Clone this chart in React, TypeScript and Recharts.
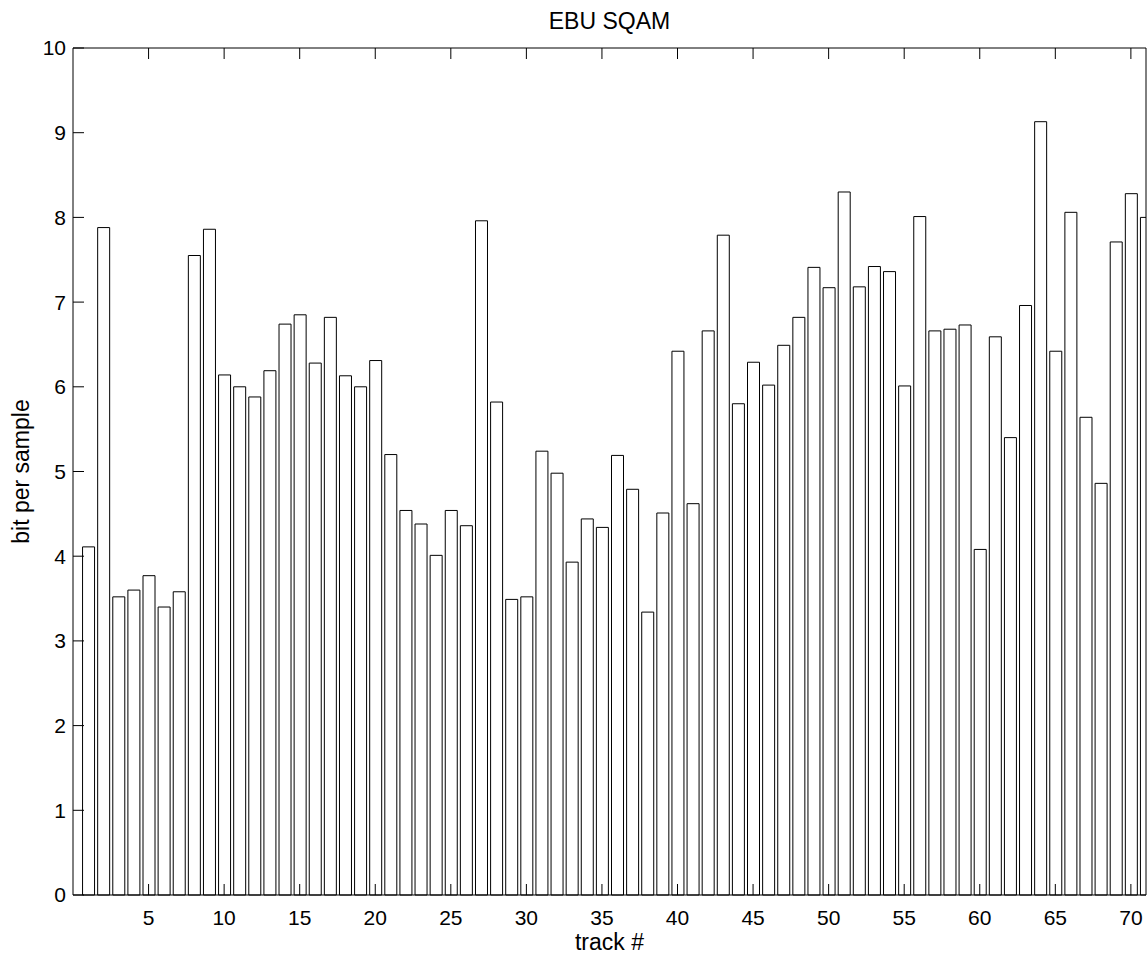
import React from 'react';
import { BarChart, Bar, XAxis, YAxis } from 'recharts';

const tracks = [
  1, 2, 3, 4, 5, 6, 7, 8, 9, 10, 11, 12, 13, 14, 15, 16, 17, 18, 19, 20,
  21, 22, 23, 24, 25, 26, 27, 28, 29, 30, 31, 32, 33, 34, 35, 36, 37, 38, 39, 40,
  41, 42, 43, 44, 45, 46, 47, 48, 49, 50, 51, 52, 53, 54, 55, 56, 57, 58, 59, 60,
  61, 62, 63, 64, 65, 66, 67, 68, 69, 70, 71,
];

const bitsPerSample = [
  4.11, 7.88, 3.52, 3.6, 3.77, 3.4, 3.58, 7.55, 7.86, 6.14,
  6.0, 5.88, 6.19, 6.74, 6.85, 6.28, 6.82, 6.13, 6.0, 6.31,
  5.2, 4.54, 4.38, 4.01, 4.54, 4.36, 7.96, 5.82, 3.49, 3.52,
  5.24, 4.98, 3.93, 4.44, 4.34, 5.19, 4.79, 3.34, 4.51, 6.42,
  4.62, 6.66, 7.79, 5.8, 6.29, 6.02, 6.49, 6.82, 7.41, 7.17,
  8.3, 7.18, 7.42, 7.36, 6.01, 8.01, 6.66, 6.68, 6.73, 4.08,
  6.59, 5.4, 6.96, 9.13, 6.42, 8.06, 5.64, 4.86, 7.71, 8.28,
  8.0,
];

const xTicks = [5, 10, 15, 20, 25, 30, 35, 40, 45, 50, 55, 60, 65, 70];
const yTicks = [0, 1, 2, 3, 4, 5, 6, 7, 8, 9, 10];
const xDomain = [0, 71];
const yDomain = [0, 10];

const title = 'EBU SQAM';
const xLabel = 'track #';
const yLabel = 'bit per sample';

const data = tracks.map((t, i) => ({ track: t, value: bitsPerSample[i] }));

const FONT = '"Liberation Sans", Arial, Helvetica, sans-serif';
const TICK_LEN = 11;
const TICK_FONT = 21;
const LABEL_FONT = 23;

const BottomTick = (props: any) => {
  const { x, y, payload } = props;
  return (
    <g>
      <line x1={x} x2={x} y1={y} y2={y - TICK_LEN} stroke="#000" strokeWidth={1} />
      <text
        x={x}
        y={y + 15}
        dy="0.71em"
        textAnchor="middle"
        style={{ fontFamily: FONT, fontSize: TICK_FONT, fill: '#000' }}
      >
        {payload.value}
      </text>
    </g>
  );
};

const TopTick = (props: any) => {
  const { x, y } = props;
  return <line x1={x} x2={x} y1={y} y2={y + TICK_LEN} stroke="#000" strokeWidth={1} />;
};

const LeftTick = (props: any) => {
  const { x, y, payload } = props;
  return (
    <g>
      <line x1={x} x2={x + TICK_LEN} y1={y} y2={y} stroke="#000" strokeWidth={1} />
      <text
        x={x - 7}
        y={y}
        dy="0.355em"
        textAnchor="end"
        style={{ fontFamily: FONT, fontSize: TICK_FONT, fill: '#000' }}
      >
        {payload.value}
      </text>
    </g>
  );
};

const RightTick = (props: any) => {
  const { x, y } = props;
  return <line x1={x - TICK_LEN} x2={x} y1={y} y2={y} stroke="#000" strokeWidth={1} />;
};

const YLabelContent = (props: any) => {
  const vb = props.viewBox || {};
  const cy = (vb.y || 0) + (vb.height || 0) / 2;
  const x = 29;
  return (
    <text
      x={x}
      y={cy}
      transform={`rotate(-90 ${x} ${cy})`}
      textAnchor="middle"
      style={{ fontFamily: FONT, fontSize: LABEL_FONT, fill: '#000' }}
    >
      {yLabel}
    </text>
  );
};

export default function App() {
  return (
    <div style={{ position: 'absolute', left: 0, top: 0, background: '#fff' }}>
      <BarChart
        width={1148}
        height={955}
        data={data}
        margin={{ top: 47, right: 1, bottom: 59, left: 72 }}
        barCategoryGap={0}
      >
        <XAxis
          xAxisId="b"
          dataKey="track"
          type="number"
          domain={xDomain}
          ticks={xTicks}
          allowDataOverflow
          height={1}
          orientation="bottom"
          stroke="#000"
          tickLine={false}
          tickSize={0}
          tickMargin={0}
          tick={<BottomTick />}
          interval={0}
          label={{
            value: xLabel,
            position: 'bottom',
            offset: 38,
            style: { fontFamily: FONT, fontSize: LABEL_FONT, fill: '#000' },
          }}
        />
        <XAxis
          xAxisId="t"
          dataKey="track"
          type="number"
          domain={xDomain}
          ticks={xTicks}
          allowDataOverflow
          height={1}
          orientation="top"
          stroke="#000"
          tickLine={false}
          tickSize={0}
          tickMargin={0}
          tick={<TopTick />}
          interval={0}
          label={{
            value: title,
            position: 'top',
            offset: 18,
            style: { fontFamily: FONT, fontSize: LABEL_FONT, fill: '#000' },
          }}
        />
        <YAxis
          yAxisId="l"
          type="number"
          domain={yDomain}
          ticks={yTicks}
          width={1}
          orientation="left"
          stroke="#000"
          tickLine={false}
          tickSize={0}
          tickMargin={0}
          tick={<LeftTick />}
          interval={0}
          label={{ content: YLabelContent }}
        />
        <YAxis
          yAxisId="r"
          type="number"
          domain={yDomain}
          ticks={yTicks}
          width={1}
          orientation="right"
          stroke="#000"
          tickLine={false}
          tickSize={0}
          tickMargin={0}
          tick={<RightTick />}
          interval={0}
        />
        <Bar
          xAxisId="b"
          yAxisId="l"
          dataKey="value"
          barSize={12}
          fill="#fff"
          stroke="#000"
          strokeWidth={1}
          isAnimationActive={false}
        />
      </BarChart>
    </div>
  );
}
